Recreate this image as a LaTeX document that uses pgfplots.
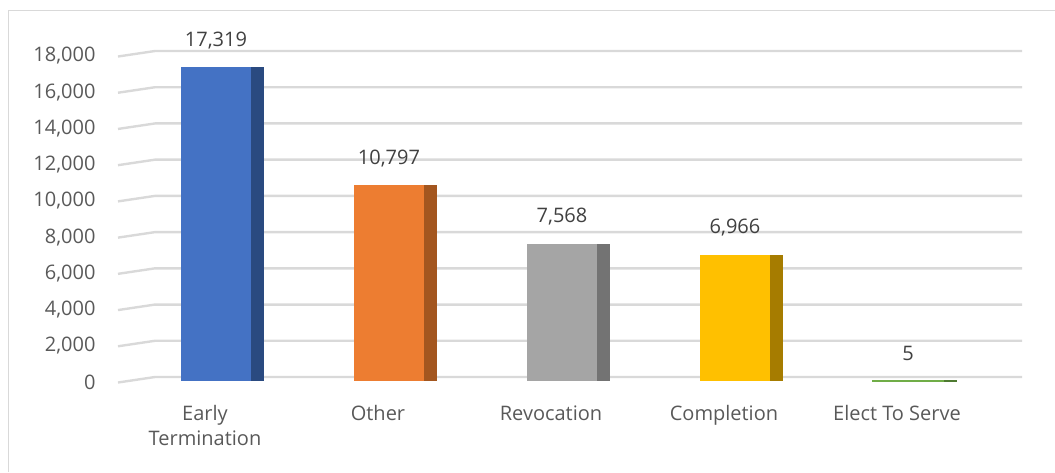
\documentclass[border=0pt]{standalone}
\usepackage{pgfplots}
\pgfplotsset{compat=1.18}
\usepackage{fontspec}
\setmainfont{Open Sans}

\definecolor{gridc}{HTML}{D9D9D9}
\definecolor{txt}{HTML}{595959}
\definecolor{lbl}{HTML}{404040}
\definecolor{cblue}{HTML}{4472C4}
\definecolor{cblued}{HTML}{2A4A80}
\definecolor{corange}{HTML}{ED7D31}
\definecolor{coranged}{HTML}{A3561F}
\definecolor{cgray}{HTML}{A5A5A5}
\definecolor{cgrayd}{HTML}{737373}
\definecolor{cgold}{HTML}{FFC000}
\definecolor{cgoldd}{HTML}{A67C00}
\definecolor{cgreen}{HTML}{70AD47}
\definecolor{cgreend}{HTML}{4E7A31}

\begin{document}
\begin{tikzpicture}[x=1pt,y=1pt]
\useasboundingbox (0,0) rectangle (1055,-472);
\draw[gridc, line width=1pt] (8,-472) -- (8,-10) -- (1055,-10);

\begin{axis}[
    at={(118pt,-381pt)}, anchor=south west,
    scale only axis, width=904pt, height=326pt,
    xmin=-0.5665, xmax=4.659, ymin=0, ymax=18000,
    clip=false,
    axis line style={draw=none}, major tick length=0pt,
    ytick={0,2000,...,18000},
    xtick={0,1,2,3,4},
    xticklabels={{Early\\Termination},Other,Revocation,Completion,{Elect To Serve}},
    scaled y ticks=false,
    /pgf/number format/fixed, /pgf/number format/precision=0,
    /pgf/number format/1000 sep={,},
    /pgf/number format/assume math mode=true,
    font=\fontsize{20}{25}\selectfont,
    tick label style={text=txt},
    yticklabel style={anchor=east, xshift=-19pt, yshift=-1pt},
    xticklabel style={align=center, anchor=north, yshift=-21pt, xshift=-11pt},
    ybar, bar width=70pt, bar shift=0pt,
    every node near coord/.append style={anchor=center, yshift=27pt, text=lbl},
]

% perspective grid: short slanted side-wall piece, then back wall
\pgfplotsinvokeforeach{0,2000,4000,6000,8000,10000,12000,14000,16000,18000}{
  \draw[gridc, line width=2.4pt] ([yshift=-1.5pt]axis cs:-0.5665,#1) -- ++(37pt,5.5pt) -- ([yshift=4pt]axis cs:4.659,#1);
}

% side faces
\addplot[fill=cblued, draw=none, bar width=13pt, bar shift=41.5pt] coordinates {(0,17319)};
\addplot[fill=coranged, draw=none, bar width=13pt, bar shift=41.5pt] coordinates {(1,10797)};
\addplot[fill=cgrayd, draw=none, bar width=13pt, bar shift=41.5pt] coordinates {(2,7568)};
\addplot[fill=cgoldd, draw=none, bar width=13pt, bar shift=41.5pt] coordinates {(3,6966)};
\addplot[fill=cgreend, draw=cgreend, line width=1.5pt, bar width=13pt, bar shift=41.5pt] coordinates {(4,5)};

% front faces
\addplot[fill=cblue, draw=none, nodes near coords] coordinates {(0,17319)};
\addplot[fill=corange, draw=none, nodes near coords] coordinates {(1,10797)};
\addplot[fill=cgray, draw=none, nodes near coords] coordinates {(2,7568)};
\addplot[fill=cgold, draw=none, nodes near coords] coordinates {(3,6966)};
\addplot[fill=cgreen, draw=cgreen, line width=1.5pt, nodes near coords] coordinates {(4,5)};

\end{axis}
\end{tikzpicture}
\end{document}
